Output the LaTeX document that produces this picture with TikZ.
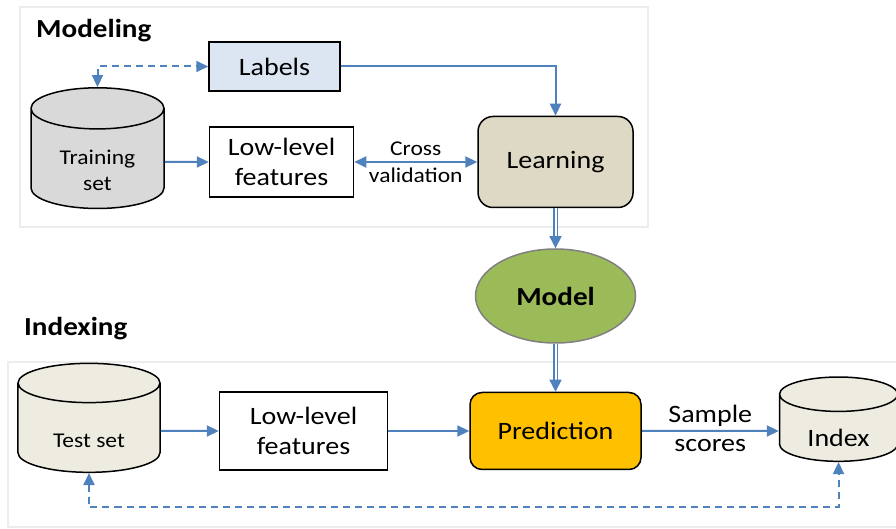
\documentclass[tikz,border=0pt]{standalone}
\usepackage{fontspec}
\setmainfont{Carlito}[FakeStretch=1.12]
\usetikzlibrary{positioning,shapes.geometric,arrows.meta}

\definecolor{arrowblue}{HTML}{4F81BD}
\definecolor{labelblue}{HTML}{DCE6F2}
\definecolor{traingray}{HTML}{D9D9D9}
\definecolor{learnbeige}{HTML}{DDD9C4}
\definecolor{modelgreen}{HTML}{9BBB59}
\definecolor{predorange}{HTML}{FFC000}
\definecolor{dbcream}{HTML}{EEECE1}

\newcommand\mainfs{\fontsize{25}{30}\selectfont}
\newcommand\dbfs{\fontsize{21}{26}\selectfont}
\newcommand\edgefs{\fontsize{21}{26}\selectfont}
\newcommand\titlefs{\fontsize{26}{30}\selectfont\bfseries}

\tikzset{
    box/.style={draw, line width=1.5pt, align=center, font=\mainfs},
    rbox/.style={box, rounded corners=15pt},
    db/.style={cylinder, shape border rotate=90, aspect=0.5, draw, line width=1.5pt, align=center, font=\dbfs},
    frame/.style={draw=black!7, line width=2pt},
    title/.style={anchor=west, inner sep=0pt, font=\titlefs},
    conn/.style={draw=arrowblue, line width=2pt},
    dsh/.style={conn, dash pattern=on 7pt off 5pt},
    dbl/.style={draw=arrowblue, line width=1.5pt, double=white, double distance=2pt},
    >={Triangle[length=12pt,width=11pt]}
}

\begin{document}
\begin{tikzpicture}[x=1pt,y=1pt]
    \useasboundingbox (0,0) rectangle (896,-529);
    \draw[frame] (20,-7) rectangle (648,-227);
    \draw[frame] (8,-362) rectangle (905,-527);
    \node[title] (modtitle) at (36,-31) {Modeling};
    \node[title] (idxtitle) at (24,-329) {Indexing};

    \node[box, fill=labelblue, minimum width=131pt, minimum height=49pt] (labels) at (274.5,-66.5) {Labels};
    \node[db, fill=traingray, minimum width=133pt, minimum height=98pt, text height=58pt, text depth=0pt] (train) at (97.5,-162) {Training\\set};
    \node[box, right=44pt of train, minimum width=144pt, minimum height=70pt] (lowtrain) {Low-level\\features};
    \node[rbox, right=123pt of lowtrain, fill=learnbeige, minimum width=155pt, minimum height=91pt] (learn) {Learning};
    \node[ellipse, below=40pt of learn, draw=black!50, line width=1.5pt, fill=modelgreen, minimum width=160pt, minimum height=94pt, font=\titlefs] (model) {Model};
    \node[rbox, below=48pt of model, rounded corners=12pt, fill=predorange, minimum width=171pt, minimum height=77pt] (pred) {Prediction};
    \node[box, left=81pt of pred, minimum width=168pt, minimum height=78pt] (lowtest) {Low-level\\features};
    \node[db, left=58pt of lowtest, fill=dbcream, minimum width=142pt, minimum height=109pt, text height=32pt, text depth=0pt] (test) {Test set};
    \node[db, right=137pt of pred, fill=dbcream, minimum width=118pt, minimum height=76pt, font=\mainfs, text height=31pt, text depth=0pt] (index) {Index};

    \draw[conn, ->] (labels) -| (learn);
    \draw[dsh, <->] (train.north) |- (labels);
    \draw[conn, ->] (train) -- (lowtrain);
    \draw[conn, <->] (lowtrain) -- node[above=2pt, font=\edgefs] {Cross} node[below=2pt, font=\edgefs] {validation} (learn);
    \draw[dbl, -{Triangle[length=12pt,width=12pt]}] (learn) -- (model);
    \draw[dbl, -{Triangle[length=12pt,width=12pt]}] (model) -- (pred);
    \draw[conn, ->] (test) -- (lowtest);
    \draw[conn, ->] (lowtest) -- (pred);
    \draw[conn, ->] (pred) -- node[above, font=\mainfs] {Sample} node[below=4pt, font=\mainfs] {scores} (index);
    \draw[dsh, <->] (test.south) -- ++(0,-34pt) -| (index.south);
\end{tikzpicture}
\end{document}
